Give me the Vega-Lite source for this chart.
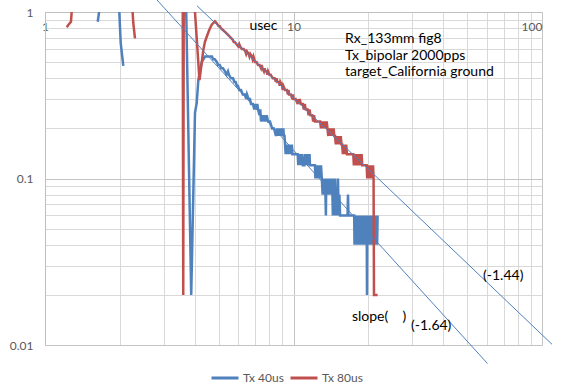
{
 "$schema": "https://vega.github.io/schema/vega-lite/v6.json",
 "width": 497, "height": 333,
 "autosize": {"type": "none"},
 "padding": {"left": 45, "top": 12, "right": 25, "bottom": 44},
 "background": "white",
 "config": {"view": {"stroke": null}, "font": "Lato"},
 "encoding": {
  "x": {"field": "x", "type": "quantitative",
   "scale": {"type": "log", "domain": [1, 100], "nice": false},
   "axis": {"orient": "top", "title": null,
    "values": [1,2,3,4,5,6,7,8,9,10,20,30,40,50,60,70,80,90,100],
    "labelExpr": "datum.value==1?'1':datum.value==10?'10':datum.value==100?'100':''",
    "ticks": false, "tickSize": 0, "domain": true, "domainColor": "#bfbfbf",
    "grid": true, "gridColor": {"condition": {"test": "datum.value==10||datum.value==100", "value": "#c4c4c4"}, "value": "#d9d9d9"},
    "labelBaseline": "top", "labelPadding": -9, "labelFontSize": 12, "labelColor": "#595959",
    "labelFlush": false, "labelOverlap": false,
    "labelAlign": {"condition": {"test": "datum.value==100", "value": "right"}, "value": "center"}}},
  "y": {"field": "y", "type": "quantitative",
   "scale": {"type": "log", "domain": [0.01, 1], "nice": false},
   "axis": {"orient": "left", "title": null,
    "values": [0.01,0.02,0.03,0.04,0.05,0.06,0.07,0.08,0.09,0.1,0.2,0.3,0.4,0.5,0.6,0.7,0.8,0.9,1],
    "labelExpr": "datum.value==1?'1':datum.value==0.1?'0.1':datum.value==0.01?'0.01':''",
    "ticks": false, "tickSize": 0, "domain": true, "domainColor": "#bfbfbf",
    "grid": true, "gridColor": {"condition": {"test": "datum.value==0.1||datum.value==0.01", "value": "#c4c4c4"}, "value": "#d9d9d9"},
    "labelPadding": 12, "labelFontSize": 12, "labelColor": "#595959",
    "labelFlush": false, "labelOverlap": false}}
 },
 "layer": [
  {
   "data": {"values": [
    {"series":"Tx 40us","seg":"b1","x":1.63,"y":0.874},{"series":"Tx 40us","seg":"b1","x":1.665,"y":1.10},
    {"series":"Tx 40us","seg":"b2","x":1.985,"y":1.10},{"series":"Tx 40us","seg":"b2","x":2.017,"y":0.651},{"series":"Tx 40us","seg":"b2","x":2.066,"y":0.474},
    {"series":"Tx 40us","seg":"b3","x":3.694,"y":1.18},{"series":"Tx 40us","seg":"b3","x":3.876,"y":0.02},{"series":"Tx 40us","seg":"b3","x":4.014,"y":0.248},{"series":"Tx 40us","seg":"b3","x":4.078,"y":0.284},{"series":"Tx 40us","seg":"b3","x":4.14,"y":0.39},{"series":"Tx 40us","seg":"b3","x":4.272,"y":0.50},{"series":"Tx 40us","seg":"b3","x":4.405,"y":0.54},{"series":"Tx 40us","seg":"b3","x":4.571,"y":0.54},{"series":"Tx 40us","seg":"b3","x":4.70,"y":0.54},{"series":"Tx 40us","seg":"b3","x":4.75,"y":0.52},{"series":"Tx 40us","seg":"b3","x":4.82,"y":0.52},{"series":"Tx 40us","seg":"b3","x":4.92,"y":0.50},{"series":"Tx 40us","seg":"b3","x":4.97,"y":0.48},{"series":"Tx 40us","seg":"b3","x":5.05,"y":0.48},{"series":"Tx 40us","seg":"b3","x":5.12,"y":0.46},{"series":"Tx 40us","seg":"b3","x":5.20,"y":0.46},{"series":"Tx 40us","seg":"b3","x":5.30,"y":0.44},{"series":"Tx 40us","seg":"b3","x":5.38,"y":0.42},{"series":"Tx 40us","seg":"b3","x":5.45,"y":0.44},{"series":"Tx 40us","seg":"b3","x":5.50,"y":0.42},{"series":"Tx 40us","seg":"b3","x":5.60,"y":0.40},{"series":"Tx 40us","seg":"b3","x":5.71,"y":0.40},{"series":"Tx 40us","seg":"b3","x":5.78,"y":0.38},{"series":"Tx 40us","seg":"b3","x":5.85,"y":0.38},{"series":"Tx 40us","seg":"b3","x":5.92,"y":0.36},{"series":"Tx 40us","seg":"b3","x":5.98,"y":0.36},{"series":"Tx 40us","seg":"b3","x":6.05,"y":0.34},{"series":"Tx 40us","seg":"b3","x":6.15,"y":0.34},{"series":"Tx 40us","seg":"b3","x":6.25,"y":0.32},{"series":"Tx 40us","seg":"b3","x":6.38,"y":0.32},{"series":"Tx 40us","seg":"b3","x":6.45,"y":0.30},{"series":"Tx 40us","seg":"b3","x":6.50,"y":0.32},{"series":"Tx 40us","seg":"b3","x":6.60,"y":0.30},{"series":"Tx 40us","seg":"b3","x":6.68,"y":0.30},{"series":"Tx 40us","seg":"b3","x":6.75,"y":0.28},{"series":"Tx 40us","seg":"b3","x":6.87,"y":0.28},{"series":"Tx 40us","seg":"b3","x":6.95,"y":0.26},{"series":"Tx 40us","seg":"b3","x":7.00,"y":0.28},{"series":"Tx 40us","seg":"b3","x":7.10,"y":0.26},{"series":"Tx 40us","seg":"b3","x":7.15,"y":0.28},{"series":"Tx 40us","seg":"b3","x":7.20,"y":0.26},{"series":"Tx 40us","seg":"b3","x":7.30,"y":0.24},{"series":"Tx 40us","seg":"b3","x":7.35,"y":0.26},{"series":"Tx 40us","seg":"b3","x":7.40,"y":0.22},{"series":"Tx 40us","seg":"b3","x":7.45,"y":0.24},{"series":"Tx 40us","seg":"b3","x":7.50,"y":0.22},{"series":"Tx 40us","seg":"b3","x":7.60,"y":0.24},{"series":"Tx 40us","seg":"b3","x":7.70,"y":0.22},{"series":"Tx 40us","seg":"b3","x":7.80,"y":0.24},{"series":"Tx 40us","seg":"b3","x":7.90,"y":0.22},{"series":"Tx 40us","seg":"b3","x":8.04,"y":0.22},{"series":"Tx 40us","seg":"b3","x":8.20,"y":0.20},{"series":"Tx 40us","seg":"b3","x":8.35,"y":0.20},{"series":"Tx 40us","seg":"b3","x":8.50,"y":0.18},{"series":"Tx 40us","seg":"b3","x":8.60,"y":0.20},{"series":"Tx 40us","seg":"b3","x":8.65,"y":0.18},{"series":"Tx 40us","seg":"b3","x":8.70,"y":0.20},{"series":"Tx 40us","seg":"b3","x":8.75,"y":0.18},{"series":"Tx 40us","seg":"b3","x":8.80,"y":0.20},{"series":"Tx 40us","seg":"b3","x":8.85,"y":0.18},{"series":"Tx 40us","seg":"b3","x":8.90,"y":0.20},{"series":"Tx 40us","seg":"b3","x":8.95,"y":0.18},{"series":"Tx 40us","seg":"b3","x":9.00,"y":0.20},{"series":"Tx 40us","seg":"b3","x":9.05,"y":0.18},{"series":"Tx 40us","seg":"b3","x":9.10,"y":0.20},{"series":"Tx 40us","seg":"b3","x":9.15,"y":0.18},{"series":"Tx 40us","seg":"b3","x":9.20,"y":0.18},{"series":"Tx 40us","seg":"b3","x":9.25,"y":0.16},{"series":"Tx 40us","seg":"b3","x":9.30,"y":0.14},{"series":"Tx 40us","seg":"b3","x":9.35,"y":0.16},{"series":"Tx 40us","seg":"b3","x":9.40,"y":0.14},{"series":"Tx 40us","seg":"b3","x":9.45,"y":0.16},{"series":"Tx 40us","seg":"b3","x":9.50,"y":0.14},{"series":"Tx 40us","seg":"b3","x":9.55,"y":0.16},{"series":"Tx 40us","seg":"b3","x":9.60,"y":0.14},{"series":"Tx 40us","seg":"b3","x":9.65,"y":0.16},{"series":"Tx 40us","seg":"b3","x":9.70,"y":0.14},{"series":"Tx 40us","seg":"b3","x":9.75,"y":0.16},{"series":"Tx 40us","seg":"b3","x":9.80,"y":0.14},{"series":"Tx 40us","seg":"b3","x":9.85,"y":0.16},{"series":"Tx 40us","seg":"b3","x":9.90,"y":0.14},{"series":"Tx 40us","seg":"b3","x":9.97,"y":0.14},{"series":"Tx 40us","seg":"b3","x":10.40,"y":0.14},{"series":"Tx 40us","seg":"b3","x":10.45,"y":0.12},{"series":"Tx 40us","seg":"b3","x":10.50,"y":0.14},{"series":"Tx 40us","seg":"b3","x":10.55,"y":0.12},{"series":"Tx 40us","seg":"b3","x":10.60,"y":0.14},{"series":"Tx 40us","seg":"b3","x":10.65,"y":0.12},{"series":"Tx 40us","seg":"b3","x":10.70,"y":0.14},{"series":"Tx 40us","seg":"b3","x":10.75,"y":0.12},{"series":"Tx 40us","seg":"b3","x":10.80,"y":0.14},{"series":"Tx 40us","seg":"b3","x":10.90,"y":0.12},{"series":"Tx 40us","seg":"b3","x":11.05,"y":0.12},{"series":"Tx 40us","seg":"b3","x":11.10,"y":0.14},{"series":"Tx 40us","seg":"b3","x":11.15,"y":0.12},{"series":"Tx 40us","seg":"b3","x":11.20,"y":0.14},{"series":"Tx 40us","seg":"b3","x":11.25,"y":0.12},{"series":"Tx 40us","seg":"b3","x":11.30,"y":0.14},{"series":"Tx 40us","seg":"b3","x":11.35,"y":0.12},{"series":"Tx 40us","seg":"b3","x":11.40,"y":0.14},{"series":"Tx 40us","seg":"b3","x":11.50,"y":0.12},{"series":"Tx 40us","seg":"b3","x":11.60,"y":0.14},{"series":"Tx 40us","seg":"b3","x":11.65,"y":0.12},{"series":"Tx 40us","seg":"b3","x":12.20,"y":0.12},{"series":"Tx 40us","seg":"b3","x":12.25,"y":0.10},{"series":"Tx 40us","seg":"b3","x":12.30,"y":0.12},{"series":"Tx 40us","seg":"b3","x":12.40,"y":0.10},{"series":"Tx 40us","seg":"b3","x":12.50,"y":0.12},{"series":"Tx 40us","seg":"b3","x":12.60,"y":0.10},{"series":"Tx 40us","seg":"b3","x":12.70,"y":0.12},{"series":"Tx 40us","seg":"b3","x":12.80,"y":0.10},{"series":"Tx 40us","seg":"b3","x":12.90,"y":0.12},{"series":"Tx 40us","seg":"b3","x":13.00,"y":0.10},{"series":"Tx 40us","seg":"b3","x":13.10,"y":0.08},{"series":"Tx 40us","seg":"b3","x":13.20,"y":0.10},{"series":"Tx 40us","seg":"b3","x":13.30,"y":0.08},{"series":"Tx 40us","seg":"b3","x":13.40,"y":0.10},{"series":"Tx 40us","seg":"b3","x":13.50,"y":0.06},{"series":"Tx 40us","seg":"b3","x":13.55,"y":0.10},{"series":"Tx 40us","seg":"b3","x":13.60,"y":0.08},{"series":"Tx 40us","seg":"b3","x":13.70,"y":0.10},{"series":"Tx 40us","seg":"b3","x":13.80,"y":0.08},{"series":"Tx 40us","seg":"b3","x":13.90,"y":0.10},{"series":"Tx 40us","seg":"b3","x":14.00,"y":0.08},{"series":"Tx 40us","seg":"b3","x":14.10,"y":0.10},{"series":"Tx 40us","seg":"b3","x":14.20,"y":0.08},{"series":"Tx 40us","seg":"b3","x":14.30,"y":0.10},{"series":"Tx 40us","seg":"b3","x":14.40,"y":0.06},{"series":"Tx 40us","seg":"b3","x":14.50,"y":0.10},{"series":"Tx 40us","seg":"b3","x":14.60,"y":0.06},{"series":"Tx 40us","seg":"b3","x":14.70,"y":0.10},{"series":"Tx 40us","seg":"b3","x":14.80,"y":0.06},{"series":"Tx 40us","seg":"b3","x":14.90,"y":0.08},{"series":"Tx 40us","seg":"b3","x":15.00,"y":0.06},{"series":"Tx 40us","seg":"b3","x":15.10,"y":0.10},{"series":"Tx 40us","seg":"b3","x":15.20,"y":0.06},{"series":"Tx 40us","seg":"b3","x":15.30,"y":0.08},{"series":"Tx 40us","seg":"b3","x":15.40,"y":0.06},{"series":"Tx 40us","seg":"b3","x":16.50,"y":0.06},{"series":"Tx 40us","seg":"b3","x":16.57,"y":0.08},{"series":"Tx 40us","seg":"b3","x":16.64,"y":0.06},{"series":"Tx 40us","seg":"b3","x":17.55,"y":0.06},{"series":"Tx 40us","seg":"b3","x":17.60,"y":0.04},{"series":"Tx 40us","seg":"b3","x":17.70,"y":0.06},{"series":"Tx 40us","seg":"b3","x":17.80,"y":0.04},{"series":"Tx 40us","seg":"b3","x":17.90,"y":0.06},{"series":"Tx 40us","seg":"b3","x":18.00,"y":0.04},{"series":"Tx 40us","seg":"b3","x":18.10,"y":0.06},{"series":"Tx 40us","seg":"b3","x":18.20,"y":0.04},{"series":"Tx 40us","seg":"b3","x":18.30,"y":0.06},{"series":"Tx 40us","seg":"b3","x":18.40,"y":0.04},{"series":"Tx 40us","seg":"b3","x":18.50,"y":0.06},{"series":"Tx 40us","seg":"b3","x":18.60,"y":0.04},{"series":"Tx 40us","seg":"b3","x":18.70,"y":0.06},{"series":"Tx 40us","seg":"b3","x":18.80,"y":0.04},{"series":"Tx 40us","seg":"b3","x":18.90,"y":0.06},{"series":"Tx 40us","seg":"b3","x":19.00,"y":0.04},{"series":"Tx 40us","seg":"b3","x":19.10,"y":0.06},{"series":"Tx 40us","seg":"b3","x":19.20,"y":0.04},{"series":"Tx 40us","seg":"b3","x":19.30,"y":0.06},{"series":"Tx 40us","seg":"b3","x":19.40,"y":0.04},{"series":"Tx 40us","seg":"b3","x":19.50,"y":0.06},{"series":"Tx 40us","seg":"b3","x":19.60,"y":0.04},{"series":"Tx 40us","seg":"b3","x":19.70,"y":0.06},{"series":"Tx 40us","seg":"b3","x":19.76,"y":0.02},{"series":"Tx 40us","seg":"b3","x":19.82,"y":0.06},{"series":"Tx 40us","seg":"b3","x":19.90,"y":0.04},{"series":"Tx 40us","seg":"b3","x":20.00,"y":0.06},{"series":"Tx 40us","seg":"b3","x":20.10,"y":0.04},{"series":"Tx 40us","seg":"b3","x":20.20,"y":0.06},{"series":"Tx 40us","seg":"b3","x":20.30,"y":0.04},{"series":"Tx 40us","seg":"b3","x":20.40,"y":0.06},{"series":"Tx 40us","seg":"b3","x":20.50,"y":0.04},{"series":"Tx 40us","seg":"b3","x":20.60,"y":0.06},{"series":"Tx 40us","seg":"b3","x":20.70,"y":0.04},{"series":"Tx 40us","seg":"b3","x":20.80,"y":0.06},{"series":"Tx 40us","seg":"b3","x":20.90,"y":0.04},{"series":"Tx 40us","seg":"b3","x":21.00,"y":0.06},{"series":"Tx 40us","seg":"b3","x":21.10,"y":0.04},{"series":"Tx 40us","seg":"b3","x":21.20,"y":0.06},{"series":"Tx 40us","seg":"b3","x":21.30,"y":0.04},{"series":"Tx 40us","seg":"b3","x":21.40,"y":0.06},{"series":"Tx 40us","seg":"b3","x":21.50,"y":0.04},{"series":"Tx 40us","seg":"b3","x":21.60,"y":0.06},{"series":"Tx 40us","seg":"b3","x":21.70,"y":0.04},{"series":"Tx 40us","seg":"b3","x":21.80,"y":0.06},
    {"series":"Tx 80us","seg":"r1","x":1.223,"y":0.81},{"series":"Tx 80us","seg":"r1","x":1.241,"y":0.835},{"series":"Tx 80us","seg":"r1","x":1.272,"y":0.874},{"series":"Tx 80us","seg":"r1","x":1.308,"y":1.56},
    {"series":"Tx 80us","seg":"r2","x":2.236,"y":1.18},{"series":"Tx 80us","seg":"r2","x":2.266,"y":0.859},{"series":"Tx 80us","seg":"r2","x":2.302,"y":0.695},
    {"series":"Tx 80us","seg":"r3","x":3.58,"y":2.5},{"series":"Tx 80us","seg":"r3","x":3.60,"y":0.02},{"series":"Tx 80us","seg":"r3","x":3.62,"y":2.5},{"series":"Tx 80us","seg":"r3","x":3.98,"y":1.21},{"series":"Tx 80us","seg":"r3","x":4.185,"y":0.39},{"series":"Tx 80us","seg":"r3","x":4.26,"y":0.48},{"series":"Tx 80us","seg":"r3","x":4.335,"y":0.59},{"series":"Tx 80us","seg":"r3","x":4.40,"y":0.66},{"series":"Tx 80us","seg":"r3","x":4.475,"y":0.71},{"series":"Tx 80us","seg":"r3","x":4.58,"y":0.78},{"series":"Tx 80us","seg":"r3","x":4.688,"y":0.84},{"series":"Tx 80us","seg":"r3","x":4.83,"y":0.88},{"series":"Tx 80us","seg":"r3","x":4.90,"y":0.86},{"series":"Tx 80us","seg":"r3","x":5.00,"y":0.82},{"series":"Tx 80us","seg":"r3","x":5.05,"y":0.82},{"series":"Tx 80us","seg":"r3","x":5.10,"y":0.80},{"series":"Tx 80us","seg":"r3","x":5.20,"y":0.78},{"series":"Tx 80us","seg":"r3","x":5.30,"y":0.76},{"series":"Tx 80us","seg":"r3","x":5.40,"y":0.74},{"series":"Tx 80us","seg":"r3","x":5.50,"y":0.72},{"series":"Tx 80us","seg":"r3","x":5.60,"y":0.70},{"series":"Tx 80us","seg":"r3","x":5.70,"y":0.68},{"series":"Tx 80us","seg":"r3","x":5.75,"y":0.66},{"series":"Tx 80us","seg":"r3","x":5.80,"y":0.66},{"series":"Tx 80us","seg":"r3","x":5.90,"y":0.64},{"series":"Tx 80us","seg":"r3","x":6.00,"y":0.62},{"series":"Tx 80us","seg":"r3","x":6.05,"y":0.64},{"series":"Tx 80us","seg":"r3","x":6.10,"y":0.62},{"series":"Tx 80us","seg":"r3","x":6.20,"y":0.60},{"series":"Tx 80us","seg":"r3","x":6.30,"y":0.60},{"series":"Tx 80us","seg":"r3","x":6.40,"y":0.58},{"series":"Tx 80us","seg":"r3","x":6.45,"y":0.56},{"series":"Tx 80us","seg":"r3","x":6.50,"y":0.58},{"series":"Tx 80us","seg":"r3","x":6.60,"y":0.56},{"series":"Tx 80us","seg":"r3","x":6.65,"y":0.54},{"series":"Tx 80us","seg":"r3","x":6.70,"y":0.56},{"series":"Tx 80us","seg":"r3","x":6.80,"y":0.54},{"series":"Tx 80us","seg":"r3","x":6.85,"y":0.52},{"series":"Tx 80us","seg":"r3","x":6.90,"y":0.54},{"series":"Tx 80us","seg":"r3","x":7.00,"y":0.50},{"series":"Tx 80us","seg":"r3","x":7.10,"y":0.50},{"series":"Tx 80us","seg":"r3","x":7.20,"y":0.48},{"series":"Tx 80us","seg":"r3","x":7.30,"y":0.48},{"series":"Tx 80us","seg":"r3","x":7.40,"y":0.46},{"series":"Tx 80us","seg":"r3","x":7.45,"y":0.48},{"series":"Tx 80us","seg":"r3","x":7.50,"y":0.46},{"series":"Tx 80us","seg":"r3","x":7.60,"y":0.44},{"series":"Tx 80us","seg":"r3","x":7.65,"y":0.46},{"series":"Tx 80us","seg":"r3","x":7.70,"y":0.44},{"series":"Tx 80us","seg":"r3","x":7.80,"y":0.44},{"series":"Tx 80us","seg":"r3","x":7.85,"y":0.42},{"series":"Tx 80us","seg":"r3","x":7.90,"y":0.44},{"series":"Tx 80us","seg":"r3","x":8.00,"y":0.42},{"series":"Tx 80us","seg":"r3","x":8.10,"y":0.42},{"series":"Tx 80us","seg":"r3","x":8.25,"y":0.40},{"series":"Tx 80us","seg":"r3","x":8.40,"y":0.40},{"series":"Tx 80us","seg":"r3","x":8.50,"y":0.38},{"series":"Tx 80us","seg":"r3","x":8.55,"y":0.40},{"series":"Tx 80us","seg":"r3","x":8.60,"y":0.38},{"series":"Tx 80us","seg":"r3","x":8.75,"y":0.38},{"series":"Tx 80us","seg":"r3","x":8.80,"y":0.36},{"series":"Tx 80us","seg":"r3","x":8.85,"y":0.38},{"series":"Tx 80us","seg":"r3","x":9.00,"y":0.36},{"series":"Tx 80us","seg":"r3","x":9.05,"y":0.34},{"series":"Tx 80us","seg":"r3","x":9.10,"y":0.36},{"series":"Tx 80us","seg":"r3","x":9.25,"y":0.34},{"series":"Tx 80us","seg":"r3","x":9.40,"y":0.34},{"series":"Tx 80us","seg":"r3","x":9.50,"y":0.32},{"series":"Tx 80us","seg":"r3","x":9.55,"y":0.34},{"series":"Tx 80us","seg":"r3","x":9.60,"y":0.32},{"series":"Tx 80us","seg":"r3","x":9.75,"y":0.32},{"series":"Tx 80us","seg":"r3","x":9.90,"y":0.30},{"series":"Tx 80us","seg":"r3","x":9.95,"y":0.32},{"series":"Tx 80us","seg":"r3","x":10.00,"y":0.30},{"series":"Tx 80us","seg":"r3","x":10.20,"y":0.30},{"series":"Tx 80us","seg":"r3","x":10.40,"y":0.28},{"series":"Tx 80us","seg":"r3","x":10.45,"y":0.30},{"series":"Tx 80us","seg":"r3","x":10.50,"y":0.28},{"series":"Tx 80us","seg":"r3","x":10.60,"y":0.30},{"series":"Tx 80us","seg":"r3","x":10.70,"y":0.28},{"series":"Tx 80us","seg":"r3","x":10.90,"y":0.28},{"series":"Tx 80us","seg":"r3","x":11.00,"y":0.26},{"series":"Tx 80us","seg":"r3","x":11.10,"y":0.28},{"series":"Tx 80us","seg":"r3","x":11.20,"y":0.26},{"series":"Tx 80us","seg":"r3","x":11.40,"y":0.26},{"series":"Tx 80us","seg":"r3","x":11.50,"y":0.24},{"series":"Tx 80us","seg":"r3","x":11.60,"y":0.26},{"series":"Tx 80us","seg":"r3","x":11.70,"y":0.24},{"series":"Tx 80us","seg":"r3","x":11.90,"y":0.24},{"series":"Tx 80us","seg":"r3","x":12.00,"y":0.22},{"series":"Tx 80us","seg":"r3","x":12.10,"y":0.24},{"series":"Tx 80us","seg":"r3","x":12.20,"y":0.22},{"series":"Tx 80us","seg":"r3","x":12.40,"y":0.22},{"series":"Tx 80us","seg":"r3","x":12.60,"y":0.22},{"series":"Tx 80us","seg":"r3","x":12.80,"y":0.22},{"series":"Tx 80us","seg":"r3","x":12.90,"y":0.20},{"series":"Tx 80us","seg":"r3","x":13.00,"y":0.22},{"series":"Tx 80us","seg":"r3","x":13.10,"y":0.20},{"series":"Tx 80us","seg":"r3","x":13.20,"y":0.22},{"series":"Tx 80us","seg":"r3","x":13.30,"y":0.20},{"series":"Tx 80us","seg":"r3","x":13.40,"y":0.22},{"series":"Tx 80us","seg":"r3","x":13.50,"y":0.20},{"series":"Tx 80us","seg":"r3","x":13.60,"y":0.22},{"series":"Tx 80us","seg":"r3","x":13.70,"y":0.20},{"series":"Tx 80us","seg":"r3","x":13.80,"y":0.18},{"series":"Tx 80us","seg":"r3","x":13.90,"y":0.20},{"series":"Tx 80us","seg":"r3","x":14.00,"y":0.18},{"series":"Tx 80us","seg":"r3","x":14.10,"y":0.20},{"series":"Tx 80us","seg":"r3","x":14.20,"y":0.18},{"series":"Tx 80us","seg":"r3","x":14.30,"y":0.20},{"series":"Tx 80us","seg":"r3","x":14.40,"y":0.18},{"series":"Tx 80us","seg":"r3","x":14.50,"y":0.20},{"series":"Tx 80us","seg":"r3","x":14.60,"y":0.18},{"series":"Tx 80us","seg":"r3","x":14.70,"y":0.18},{"series":"Tx 80us","seg":"r3","x":14.80,"y":0.16},{"series":"Tx 80us","seg":"r3","x":14.90,"y":0.18},{"series":"Tx 80us","seg":"r3","x":15.00,"y":0.16},{"series":"Tx 80us","seg":"r3","x":15.10,"y":0.18},{"series":"Tx 80us","seg":"r3","x":15.20,"y":0.16},{"series":"Tx 80us","seg":"r3","x":15.30,"y":0.18},{"series":"Tx 80us","seg":"r3","x":15.40,"y":0.16},{"series":"Tx 80us","seg":"r3","x":15.50,"y":0.18},{"series":"Tx 80us","seg":"r3","x":15.60,"y":0.16},{"series":"Tx 80us","seg":"r3","x":15.70,"y":0.16},{"series":"Tx 80us","seg":"r3","x":15.80,"y":0.14},{"series":"Tx 80us","seg":"r3","x":15.90,"y":0.16},{"series":"Tx 80us","seg":"r3","x":16.00,"y":0.14},{"series":"Tx 80us","seg":"r3","x":16.10,"y":0.16},{"series":"Tx 80us","seg":"r3","x":16.20,"y":0.14},{"series":"Tx 80us","seg":"r3","x":16.30,"y":0.16},{"series":"Tx 80us","seg":"r3","x":16.40,"y":0.14},{"series":"Tx 80us","seg":"r3","x":17.40,"y":0.14},{"series":"Tx 80us","seg":"r3","x":17.50,"y":0.12},{"series":"Tx 80us","seg":"r3","x":17.60,"y":0.14},{"series":"Tx 80us","seg":"r3","x":17.70,"y":0.12},{"series":"Tx 80us","seg":"r3","x":17.80,"y":0.14},{"series":"Tx 80us","seg":"r3","x":17.90,"y":0.12},{"series":"Tx 80us","seg":"r3","x":18.00,"y":0.14},{"series":"Tx 80us","seg":"r3","x":18.10,"y":0.12},{"series":"Tx 80us","seg":"r3","x":18.20,"y":0.14},{"series":"Tx 80us","seg":"r3","x":18.30,"y":0.12},{"series":"Tx 80us","seg":"r3","x":18.40,"y":0.14},{"series":"Tx 80us","seg":"r3","x":18.50,"y":0.12},{"series":"Tx 80us","seg":"r3","x":18.60,"y":0.14},{"series":"Tx 80us","seg":"r3","x":18.70,"y":0.12},{"series":"Tx 80us","seg":"r3","x":18.80,"y":0.14},{"series":"Tx 80us","seg":"r3","x":18.90,"y":0.12},{"series":"Tx 80us","seg":"r3","x":19.70,"y":0.12},{"series":"Tx 80us","seg":"r3","x":19.80,"y":0.10},{"series":"Tx 80us","seg":"r3","x":19.90,"y":0.12},{"series":"Tx 80us","seg":"r3","x":20.00,"y":0.10},{"series":"Tx 80us","seg":"r3","x":20.10,"y":0.12},{"series":"Tx 80us","seg":"r3","x":20.20,"y":0.10},{"series":"Tx 80us","seg":"r3","x":20.30,"y":0.12},{"series":"Tx 80us","seg":"r3","x":20.40,"y":0.10},{"series":"Tx 80us","seg":"r3","x":20.50,"y":0.12},{"series":"Tx 80us","seg":"r3","x":20.60,"y":0.10},{"series":"Tx 80us","seg":"r3","x":20.70,"y":0.12},{"series":"Tx 80us","seg":"r3","x":20.80,"y":0.10},{"series":"Tx 80us","seg":"r3","x":20.90,"y":0.12},{"series":"Tx 80us","seg":"r3","x":21.00,"y":0.10},{"series":"Tx 80us","seg":"r3","x":21.08,"y":0.02},{"series":"Tx 80us","seg":"r3","x":21.80,"y":0.02}
   ]},
   "mark": {"type": "line", "clip": true, "strokeWidth": 2.5},
   "encoding": {
    "color": {"field": "series", "type": "nominal",
     "scale": {"domain": ["Tx 40us", "Tx 80us"], "range": ["#4F81BD", "#C0504D"]},
     "legend": {"orient": "none", "legendX": 165, "legendY": 351, "direction": "horizontal", "title": null,
      "symbolType": "stroke", "symbolSize": 729, "symbolStrokeWidth": 3, "labelFontSize": 12,
      "labelColor": "#595959", "labelOffset": 3, "columnPadding": 0, "labelFont": "Lato"}},
    "detail": {"field": "seg"}
   }
  },
  {
   "data": {"values": [
    {"line": "a", "x": 4.09, "y": 1.09}, {"line": "a", "x": 109.7, "y": 0.0101},
    {"line": "b", "x": 2.746, "y": 1.236}, {"line": "b", "x": 60.35, "y": 0.00774}
   ]},
   "mark": {"type": "line", "strokeWidth": 1, "color": "#4F81BD", "clip": false},
   "encoding": {"detail": {"field": "line"}}
  },
  {
   "data": {"values": [
    {"label": "usec", "x": 6.65, "y": 0.824},
    {"label": "Rx_133mm fig8", "x": 16.12, "y": 0.688},
    {"label": "Tx_bipolar 2000pps", "x": 16.12, "y": 0.544},
    {"label": "target_California ground", "x": 16.12, "y": 0.436},
    {"label": "(-1.44)", "x": 57.9, "y": 0.026},
    {"label": "slope(\u00a0\u00a0\u00a0\u00a0)", "x": 17.19, "y": 0.01473},
    {"label": "(-1.64)", "x": 29.71, "y": 0.0130}
   ]},
   "mark": {"type": "text", "align": "left", "baseline": "middle", "fontSize": 14, "font": "Lato", "color": "#000000"},
   "encoding": {"text": {"field": "label"}}
  }
 ]
}
